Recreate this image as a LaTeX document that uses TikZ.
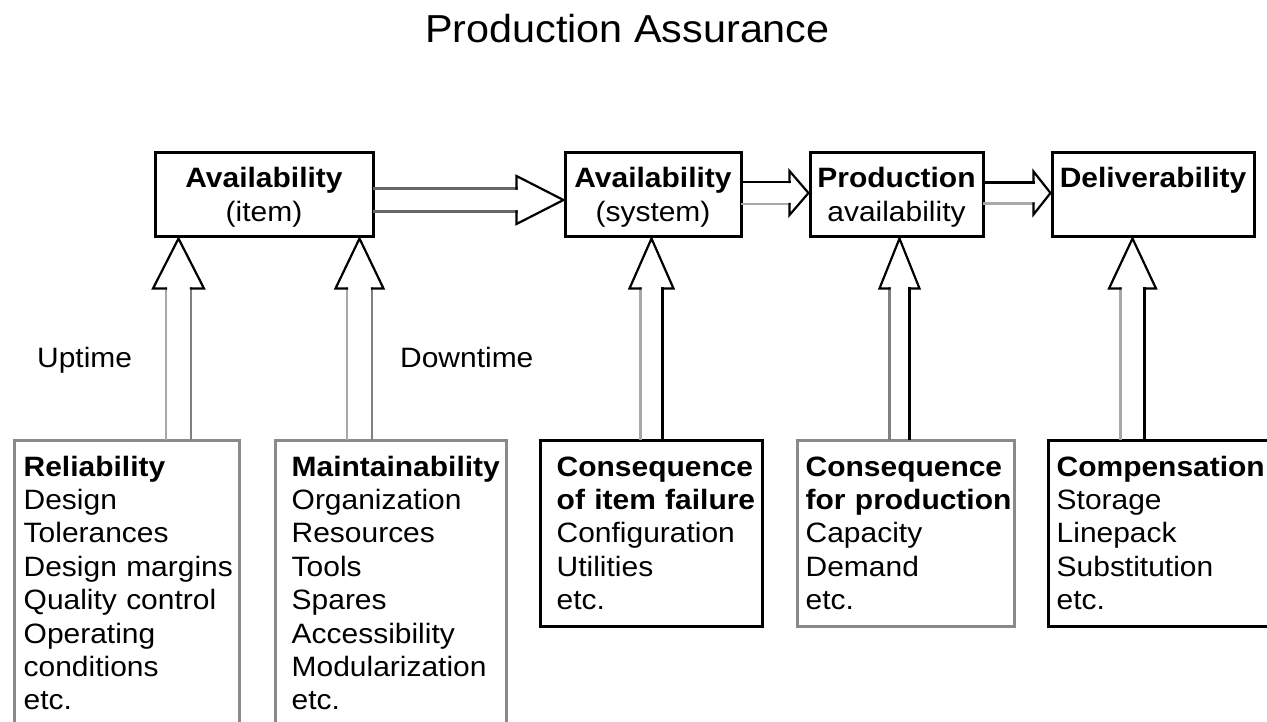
\documentclass[tikz,border=0pt]{standalone}
\usepackage{fontspec}
\setmainfont{Liberation Sans}[FakeStretch=1.07]
\newfontfamily\titlefont{Liberation Sans}[FakeStretch=1.06]
\usetikzlibrary{calc}
\definecolor{boxgray}{HTML}{8A8A8A}
\definecolor{lgray}{HTML}{A8A8A8}
\definecolor{mgray}{HTML}{808080}
\definecolor{dgray}{HTML}{666666}
\tikzset{
  topbox/.style={draw=black, line width=3pt, inner sep=0pt, minimum height=84pt},
  toptext/.style={anchor=base, inner sep=0pt, align=center, text width=210pt,
    font=\fontsize{28}{34}\selectfont},
  botbox/.style={line width=3pt, inner sep=0pt},
  boxtext/.style={anchor=base west, inner sep=0pt, align=left, text width=240pt,
    font=\fontsize{28}{33.4}\selectfont},
  lbl/.style={anchor=base west, inner sep=0pt, font=\fontsize{28}{33.4}\selectfont},
  arrline/.style={line width=2.2pt, line join=miter, line cap=rect},
}
% tip, base, shaft half width, head half width, left colour, right colour
\newcommand\hollowup[6]{%
  \draw[arrline,#5] ($(#2)+(-#3,0)$) -- ($(#1)+(-#3,50)$);
  \draw[arrline,#6] ($(#2)+(#3,0)$) -- ($(#1)+(#3,50)$);
  \draw[arrline,black] ($(#1)+(-#3,50)$) -- ($(#1)+(-#4,50)$) -- (#1)
    -- ($(#1)+(#4,50)$) -- ($(#1)+(#3,50)$);
}
% start, tip, shaft half width, head half width, head length, upper colour, lower colour
\newcommand\hollowright[7]{%
  \draw[arrline,#6] ($(#1)+(0,-#3)$) -- ($(#2)+(-#5,-#3)$);
  \draw[arrline,#7] ($(#1)+(0,#3)$) -- ($(#2)+(-#5,#3)$);
  \draw[arrline,black] ($(#2)+(-#5,-#3)$) -- ($(#2)+(-#5,-#4)$) -- (#2)
    -- ($(#2)+(-#5,#4)$) -- ($(#2)+(-#5,#3)$);
}
\begin{document}
\begin{tikzpicture}[x=1pt,y=-1pt]
\clip (0,0) rectangle (1267,722);
\fill[white] (0,0) rectangle (1267,722);

% title
\node[anchor=base, inner sep=0pt, font=\titlefont\fontsize{39}{46}\selectfont] (title)
  at (627.5,43) {Production Assurance};

% top boxes
\node[topbox, minimum width=218pt] (A) at (264,195) {};
\node[topbox, minimum width=176pt] (B) at (653,195) {};
\node[topbox, minimum width=173pt] (C) at (896.5,195) {};
\node[topbox, minimum width=202pt] (D) at (1153,195) {};
\node[toptext] (At) at ($(A.north)+(0,36)$) {\textbf{Availability}\\(item)};
\node[toptext] (Bt) at ($(B.north)+(0,36)$) {\textbf{Availability}\\(system)};
\node[toptext] (Ct) at ($(C.north)+(0,36)$) {\textbf{Production}\\availability};
\node[toptext] (Dt) at ($(D.north)+(0,36)$) {\textbf{Deliverability}};

% bottom boxes
\node[botbox, draw=boxgray, minimum width=225pt, minimum height=300pt, anchor=north] (R) at (126.5,439) {};
\node[botbox, draw=boxgray, minimum width=231pt, minimum height=300pt, anchor=north] (M) at (390.5,439) {};
\node[botbox, draw=black, minimum width=222pt, minimum height=186pt, anchor=north] (CI) at (651,439) {};
\node[botbox, draw=boxgray, minimum width=217pt, minimum height=186pt, anchor=north] (CP) at (905.5,439) {};
\node[botbox, draw=black, minimum width=240pt, minimum height=186pt, anchor=north] (CO) at (1168,439) {};

\node[boxtext] (Rt) at ($(R.north west)+(11,37)$)
  {\textbf{Reliability}\\Design\\Tolerances\\Design margins\\Quality control\\Operating\\conditions\\etc.};
\node[boxtext] (Mt) at ($(M.north west)+(18,37)$)
  {\textbf{Maintainability}\\Organization\\Resources\\Tools\\Spares\\Accessibility\\Modularization\\etc.};
\node[boxtext] (CIt) at ($(CI.north west)+(18,37)$)
  {\textbf{Consequence}\\\textbf{of item failure}\\Configuration\\Utilities\\etc.};
\node[boxtext] (CPt) at ($(CP.north west)+(10,37)$)
  {\textbf{Consequence}\\\textbf{for production}\\Capacity\\Demand\\etc.};
\node[boxtext] (COt) at ($(CO.north west)+(10,37)$)
  {\textbf{Compensation}\\Storage\\Linepack\\Substitution\\etc.};

% side labels
\node[lbl] (up) at (37,367) {Uptime};
\node[lbl] (down) at (400,367) {Downtime};

% horizontal arrows
\coordinate (ab0) at ($(A.east)+(0,5)$);
\coordinate (ab1) at ($(B.west)+(0,5)$);
\hollowright{ab0}{ab1}{11.5}{24}{47}{dgray}{dgray}
\coordinate (bc0) at ($(B.east)+(0,-2)$);
\coordinate (bc1) at ($(C.west)+(0,-2)$);
\hollowright{bc0}{bc1}{11}{22}{19}{black}{lgray}
\coordinate (cd0) at ($(C.east)+(0,-2)$);
\coordinate (cd1) at ($(D.west)+(0,-2)$);
\hollowright{cd0}{cd1}{10.5}{21.5}{17}{black}{lgray}

% vertical arrows
\coordinate (t1) at ($(A.south west)+(25,0)$);
\coordinate (b1) at (t1 |- R.north);
\hollowup{t1}{b1}{12.5}{25.5}{lgray}{mgray}
\coordinate (t2) at ($(A.south west)+(206,0)$);
\coordinate (b2) at (t2 |- M.north);
\hollowup{t2}{b2}{12.5}{24}{lgray}{mgray}
\coordinate (t3) at ($(B.south west)+(88,0)$);
\coordinate (b3) at (t3 |- CI.north);
\hollowup{t3}{b3}{11}{22}{lgray}{black}
\coordinate (t4) at ($(C.south west)+(91,0)$);
\coordinate (b4) at (t4 |- CP.north);
\hollowup{t4}{b4}{10}{20}{mgray}{black}
\coordinate (t5) at ($(D.south west)+(82,0)$);
\coordinate (b5) at (t5 |- CO.north);
\hollowup{t5}{b5}{12}{23.5}{lgray}{black}
\end{tikzpicture}
\end{document}
